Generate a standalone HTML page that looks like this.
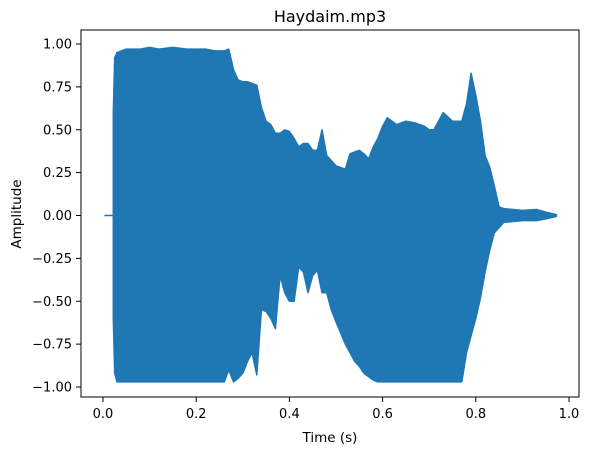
<!DOCTYPE html>
<html><head><meta charset="utf-8"><style>
html,body{margin:0;padding:0;background:#fff;}
svg text{font-family:"DejaVu Sans","Liberation Sans",sans-serif;fill:#000;}
</style></head><body>
<svg id="chart" width="590" height="453" xmlns="http://www.w3.org/2000/svg">
<rect width="590" height="453" fill="#fff"/>
<text x="330" y="22" font-size="16" text-anchor="middle">Haydaim.mp3</text>
<g id="plot"></g>
<rect x="81" y="30" width="498" height="367" fill="none" stroke="#000" stroke-width="1"/>
<g id="xticks"></g><g id="yticks"></g>
<text x="330" y="442" font-size="13.5" text-anchor="middle">Time (s)</text>
<text transform="translate(21,214) rotate(-90)" font-size="13.5" text-anchor="middle">Amplitude</text>
</svg>
<script>
const times = [0.022,0.025,0.03,0.05,0.08,0.1,0.12,0.15,0.18,0.2,0.22,0.24,0.26,0.27,0.28,0.29,0.3,0.31,0.32,0.33,0.34,0.35,0.36,0.37,0.38,0.39,0.4,0.41,0.42,0.43,0.44,0.45,0.46,0.47,0.48,0.49,0.5,0.52,0.53,0.54,0.55,0.56,0.57,0.58,0.59,0.6,0.61,0.63,0.65,0.67,0.69,0.7,0.71,0.73,0.75,0.77,0.78,0.79,0.8,0.81,0.82,0.83,0.84,0.85,0.86,0.9,0.93,0.95,0.973];
const upper = [0.6,0.92,0.95,0.97,0.97,0.98,0.97,0.98,0.97,0.97,0.97,0.96,0.96,0.97,0.85,0.79,0.78,0.78,0.77,0.76,0.63,0.55,0.53,0.48,0.48,0.5,0.49,0.45,0.4,0.42,0.42,0.38,0.38,0.5,0.35,0.32,0.29,0.27,0.36,0.37,0.38,0.36,0.33,0.4,0.45,0.52,0.57,0.53,0.55,0.54,0.52,0.5,0.5,0.6,0.55,0.55,0.65,0.83,0.7,0.55,0.35,0.28,0.17,0.05,0.04,0.03,0.035,0.02,0.005];
const lower = [-0.6,-0.92,-0.97,-0.97,-0.97,-0.97,-0.97,-0.97,-0.97,-0.97,-0.97,-0.97,-0.97,-0.9,-0.97,-0.95,-0.92,-0.85,-0.8,-0.93,-0.55,-0.56,-0.6,-0.66,-0.35,-0.45,-0.5,-0.5,-0.3,-0.33,-0.45,-0.35,-0.32,-0.45,-0.45,-0.55,-0.62,-0.75,-0.8,-0.85,-0.88,-0.92,-0.94,-0.96,-0.97,-0.97,-0.97,-0.97,-0.97,-0.97,-0.97,-0.97,-0.97,-0.97,-0.97,-0.97,-0.8,-0.7,-0.6,-0.48,-0.33,-0.2,-0.1,-0.07,-0.04,-0.03,-0.03,-0.02,-0.005];
const xTickVals = [0.0,0.2,0.4,0.6,0.8,1.0];
const xTickLabels = ["0.0","0.2","0.4","0.6","0.8","1.0"];
const yTickVals = [1,0.75,0.5,0.25,0,-0.25,-0.5,-0.75,-1];
const yTickLabels = ["1.00","0.75","0.50","0.25","0.00","\u22120.25","\u22120.50","\u22120.75","\u22121.00"];
const silenceStart = 0.003;

const NS="http://www.w3.org/2000/svg";
const X = t => 103 + t*466;
const Y = a => 215.5 - a*171.5;
const plot=document.getElementById('plot');
const col="#1f77b4";
const flat=document.createElementNS(NS,'line');


flat.setAttribute('x1',X(silenceStart));flat.setAttribute('x2',X(times[0]));
flat.setAttribute('y1',Y(0));flat.setAttribute('y2',Y(0));
flat.setAttribute('stroke',col);flat.setAttribute('stroke-width','1.5');
plot.appendChild(flat);
let pts=[];
times.forEach((t,i)=>pts.push(X(t).toFixed(1)+','+Y(upper[i]).toFixed(1)));
for(let i=times.length-1;i>=0;i--) pts.push(X(times[i]).toFixed(1)+','+Y(lower[i]).toFixed(1));
const poly=document.createElementNS(NS,'polygon');


poly.setAttribute('points',pts.join(' '));
poly.setAttribute('fill',col);poly.setAttribute('stroke',col);poly.setAttribute('stroke-width','1.5');poly.setAttribute('stroke-linejoin','round');
plot.appendChild(poly);

const xt=document.getElementById('xticks');
xTickVals.forEach((v,i)=>{
  const l=document.createElementNS(NS,'line');
  
  
  l.setAttribute('x1',X(v));l.setAttribute('x2',X(v));l.setAttribute('y1',397);l.setAttribute('y2',402);l.setAttribute('stroke','#000');
  xt.appendChild(l);
  const tx=document.createElementNS(NS,'text');
  
  
  tx.setAttribute('x',X(v));tx.setAttribute('y',418);tx.setAttribute('font-size','13');tx.setAttribute('text-anchor','middle');
  tx.textContent=xTickLabels[i];xt.appendChild(tx);
});
const yt=document.getElementById('yticks');
yTickVals.forEach((v,i)=>{
  const l=document.createElementNS(NS,'line');
  
  
  l.setAttribute('x1',76);l.setAttribute('x2',81);l.setAttribute('y1',Y(v));l.setAttribute('y2',Y(v));l.setAttribute('stroke','#000');
  yt.appendChild(l);
  const tx=document.createElementNS(NS,'text');
  
  
  tx.setAttribute('x',72);tx.setAttribute('y',Y(v)+4.5);tx.setAttribute('font-size','13');tx.setAttribute('text-anchor','end');
  tx.textContent=yTickLabels[i];yt.appendChild(tx);
});
</script>
</body></html>
